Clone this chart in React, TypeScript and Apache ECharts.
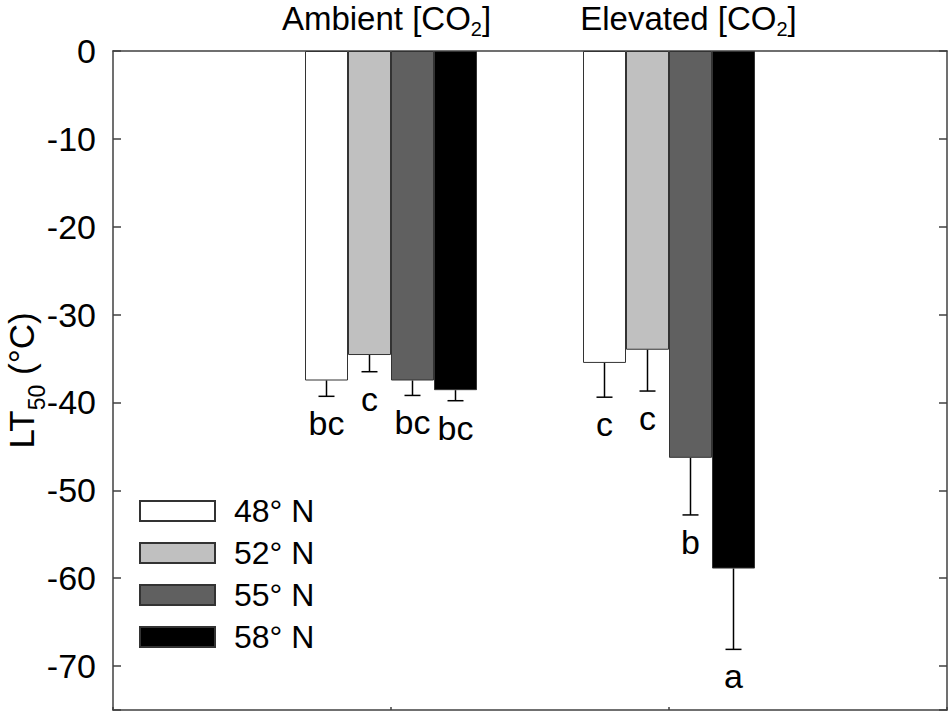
import React, { useEffect, useRef } from "react";
import * as echarts from "echarts";

const groupNames = ["Ambient", "Elevated"];
const groupX = [1, 2];
const seriesNames = ["48° N", "52° N", "55° N", "58° N"];
const seriesColors = ["#ffffff", "#c0c0c0", "#606060", "#000000"];
const values48 = [-37.5, -35.5];
const values52 = [-34.6, -34.0];
const values55 = [-37.5, -46.3];
const values58 = [-38.6, -58.9];
const errors48 = [1.8, 3.9];
const errors52 = [1.9, 4.7];
const errors55 = [1.7, 6.5];
const errors58 = [1.2, 9.2];
const letters48 = ["bc", "c"];
const letters52 = ["c", "c"];
const letters55 = ["bc", "b"];
const letters58 = ["bc", "a"];
const yTicks = [0, -10, -20, -30, -40, -50, -60, -70];

const allValues = [values48, values52, values55, values58];
const allErrors = [errors48, errors52, errors55, errors58];
const allLetters = [letters48, letters52, letters55, letters58];

const FONT = "'Liberation Sans', Arial, sans-serif";
const BAR_W = 43;
const AXIS_COLOR = "#404040";

export default function App() {
  const ref = useRef<HTMLDivElement>(null);
  useEffect(() => {
    document.body.style.margin = "0";
    const chart = echarts.init(ref.current!, null, { renderer: "svg" });
    const titleRich = {
      m: { fontSize: 33, lineHeight: 42, color: "#000", fontFamily: FONT },
      s: { fontSize: 20, lineHeight: 8, verticalAlign: "bottom", color: "#000", fontFamily: FONT },
      ga: { width: 9, fontSize: 10 },
      ge: { width: 39, fontSize: 10 },
    };
    const nameRich = {
      m: { fontSize: 35, lineHeight: 10, verticalAlign: "top", color: "#000", fontFamily: FONT },
      s: { fontSize: 23, lineHeight: 44, verticalAlign: "bottom", color: "#000", fontFamily: FONT },
    };
    const barSeries = seriesNames.map((name, i) => ({
      type: "bar",
      name,
      xAxisIndex: 0,
      yAxisIndex: 0,
      barWidth: BAR_W,
      barGap: "0%",
      itemStyle: { color: seriesColors[i], borderColor: "#333", borderWidth: 1 },
      data: groupX.map((x, j) => [x, allValues[i][j]]),
      z: 2,
    }));
    const errSeries = seriesNames.map((name, i) => ({
      type: "custom",
      name: name + " err",
      xAxisIndex: 0,
      yAxisIndex: 0,
      z: 3,
      data: groupX.map((x, j) => [x, allValues[i][j], allErrors[i][j]]),
      renderItem: (params: any, api: any) => {
        const x = api.value(0);
        const v = api.value(1);
        const e = api.value(2);
        const p0 = api.coord([x, v]);
        const p1 = api.coord([x, v - e]);
        const cx = p0[0] + (i - 1.5) * BAR_W;
        const st = { stroke: "#000", lineWidth: 1.5 };
        return {
          type: "group",
          children: [
            { type: "line", shape: { x1: cx, y1: p0[1], x2: cx, y2: p1[1] }, style: st },
            { type: "line", shape: { x1: cx - 8, y1: p1[1], x2: cx + 8, y2: p1[1] }, style: st },
            {
              type: "text",
              x: cx,
              y: p1[1] + 10,
              style: {
                text: allLetters[i][params.dataIndex],
                fontSize: 34,
                fontFamily: FONT,
                fill: "#000",
                align: "center",
                verticalAlign: "top",
              },
            },
          ],
        };
      },
    }));
    const lineStyle = { color: AXIS_COLOR, width: 1.5 };
    chart.setOption({
      animation: false,
      backgroundColor: "#fff",
      textStyle: { fontFamily: FONT },
      grid: { left: 113, right: 4, top: 51, bottom: 5, containLabel: false, outerBoundsMode: "none" },
      legend: {
        data: seriesNames,
        orient: "vertical",
        left: 139,
        top: 495,
        padding: 0,
        itemWidth: 75,
        itemHeight: 20,
        itemGap: 10,
        icon: "rect",
        selectedMode: false,
        textStyle: { fontSize: 32, color: "#000", fontFamily: FONT, padding: [0, 0, 0, 14] },
      },
      xAxis: [
        {
          type: "value",
          min: 0,
          max: 3,
          interval: 1,
          position: "bottom",
          splitLine: { show: false },
          axisLine: { onZero: false, lineStyle },
          axisTick: { inside: true, length: 3, lineStyle },
          axisLabel: { show: false },
        },
        {
          type: "value",
          min: 0,
          max: 3,
          interval: 1,
          position: "top",
          splitLine: { show: false },
          axisLine: { show: true, onZero: false, lineStyle },
          axisTick: { show: false },
          axisLabel: {
            margin: 12,
            rich: titleRich,
            formatter: (v: number) => {
              const k = groupX.indexOf(v);
              if (k === 0) return `{m|${groupNames[k]} [CO}{s|2}{m|]}{ga| }`;
              if (k === 1) return `{ge| }{m|${groupNames[k]} [CO}{s|2}{m|]}`;
              return "";
            },
          },
        },
      ],
      yAxis: [
        {
          type: "value",
          min: -75,
          max: 0,
          minInterval: 10,
          maxInterval: 10,
          position: "left",
          name: "{m|LT}{s|50}{m| (°C)}",
          nameLocation: "middle",
          nameGap: 65,
          nameMoveOverlap: false,
          nameTextStyle: { rich: nameRich },
          splitLine: { show: false },
          axisLine: { show: true, onZero: false, lineStyle },
          axisTick: { inside: true, length: 8, lineStyle },
          axisLabel: {
            margin: 17,
            fontSize: 34,
            color: "#000",
            fontFamily: FONT,
            formatter: (v: number) => (yTicks.indexOf(v) >= 0 ? String(v) : ""),
          },
        },
        {
          type: "value",
          min: -75,
          max: 0,
          minInterval: 10,
          maxInterval: 10,
          position: "right",
          splitLine: { show: false },
          axisLine: { show: true, onZero: false, lineStyle },
          axisTick: { inside: true, length: 8, lineStyle },
          axisLabel: { show: false },
        },
      ],
      series: [...barSeries, ...errSeries],
    });
    return () => chart.dispose();
  }, []);
  return <div ref={ref} style={{ width: 951, height: 715 }} />;
}
